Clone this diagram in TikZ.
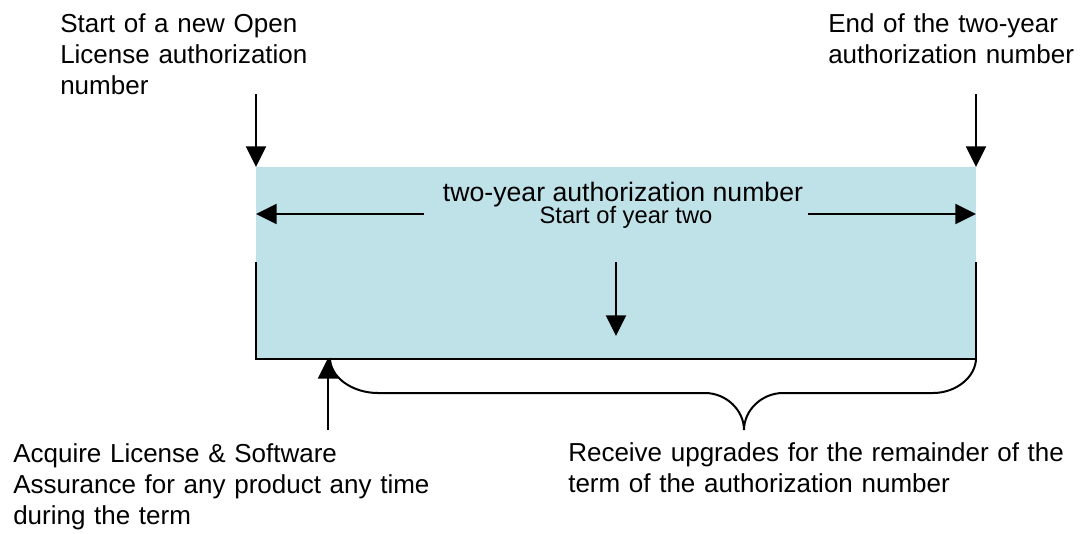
\documentclass[tikz,border=0pt]{standalone}
\usepackage{fontspec}
\setmainfont{Liberation Sans}
\usetikzlibrary{arrows.meta}
\definecolor{boxblue}{RGB}{191,226,232}
\begin{document}
\begin{tikzpicture}[x=0.75pt,y=-0.75pt,
  lbl/.style={anchor=base west, inner sep=0pt, align=left, text width=#1,
    font=\fontsize{19.5}{23.6}\selectfont},
  lbl/.default=380pt,
  arr/.style={line width=1.5pt, -{Triangle[length=15.5pt,width=15pt]}},
  ln/.style={line width=1.5pt},
]
\useasboundingbox (0,0) rectangle (1084,533);
% blue band
\fill[boxblue] (256,167) rectangle (976,358);

% labels
\node[lbl] (tlt) at (60,32) {Start of a new Open\\License authorization\\number};
\node[lbl] (trt) at (828,32) {End of the two-year\\authorization number};
\node[lbl] (blt) at (13,462) {Acquire License \& Software\\Assurance for any product any time\\during the term};
\node[lbl] (brt) at (568,461) {Receive upgrades for the remainder of the\\term of the authorization number};

\node[anchor=base, inner sep=0pt, font=\fontsize{20}{23}\selectfont] (title) at (623,201) {two-year authorization number};
\node[anchor=base, inner sep=0pt, font=\fontsize{17.8}{21}\selectfont] (sub) at (626,223) {Start of year two};

% coordinates
\coordinate (lsA) at (256,94);  \coordinate (lsB) at (256,167);
\coordinate (rsA) at (976,94);  \coordinate (rsB) at (976,167);
\coordinate (hlA) at (424,214); \coordinate (hlB) at (256,214);
\coordinate (hrA) at (808,214); \coordinate (hrB) at (976,214);
\coordinate (mA) at (616,262);  \coordinate (mB) at (616,336);
\coordinate (uA) at (328,430);  \coordinate (uB) at (328,358);
\coordinate (vlT) at (256,262); \coordinate (vlB) at (256,359);
\coordinate (vrT) at (976,262); \coordinate (vrB) at (976,359);

% frame lines
\draw[ln] (vlT) -- (vlB) -- (vrB) -- (vrT);

% brace
\draw[ln] (330,358) .. controls (330,377) and (352,393) .. (378,393)
  -- (705,393) .. controls (726,393) and (744,410) .. (744,430)
  .. controls (744,410) and (762,393) .. (783,393)
  -- (933,393) .. controls (956,393) and (976,377) .. (976,358);

% arrows
\draw[arr] (lsA) -- (lsB);
\draw[arr] (rsA) -- (rsB);
\draw[arr] (hlA) -- (hlB);
\draw[arr] (hrA) -- (hrB);
\draw[arr] (mA) -- (mB);
\draw[arr] (uA) -- (uB);
\end{tikzpicture}
\end{document}
